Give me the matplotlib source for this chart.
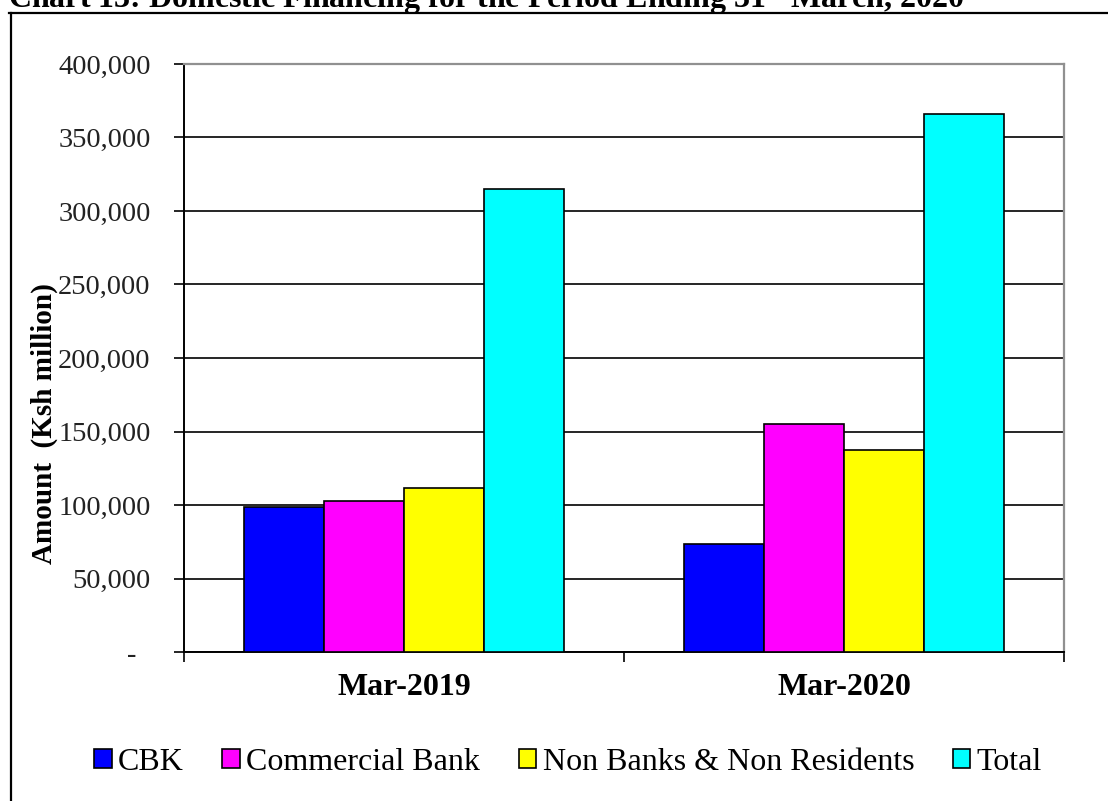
import matplotlib
matplotlib.use("Agg")
import matplotlib.pyplot as plt
from matplotlib.lines import Line2D
from matplotlib.ticker import FuncFormatter
import numpy as np

plt.rcParams['font.family'] = ['Liberation Serif', 'DejaVu Serif']
plt.rcParams['mathtext.fontset'] = 'custom'
plt.rcParams['mathtext.rm'] = 'Liberation Serif:bold'
plt.rcParams['mathtext.bf'] = 'Liberation Serif:bold'

# data (Ksh million)
periods = ["Mar-2019", "Mar-2020"]
series_names = ["CBK", "Commercial Bank", "Non Banks & Non Residents", "Total"]
cbk = [98500, 73500]
commercial_bank = [103000, 155000]
non_banks = [111500, 137500]
total = [315000, 366000]
colors = ["#0000FF", "#FF00FF", "#FFFF00", "#00FFFF"]

values = [cbk, commercial_bank, non_banks, total]

fig = plt.figure(figsize=(11.08, 8.01), dpi=100)
ax = fig.add_axes([184 / 1108, 1 - 652 / 801, 880 / 1108, 588 / 801])

centers = np.arange(len(periods)) + 0.5
w = 80 / 440
for i, (name, vals) in enumerate(zip(series_names, values)):
    ax.bar(centers + (i - 1.5) * w, vals, width=w, color=colors[i],
           edgecolor="black", linewidth=1.2, label=name, zorder=3)

ax.set_xlim(0, len(periods))
ax.set_ylim(0, 400000)
ax.set_yticks(np.arange(0, 400001, 50000))
ax.yaxis.set_major_formatter(FuncFormatter(lambda v, p: "-  " if v == 0 else f"{v:,.0f}"))
ax.grid(axis="y", color="black", linewidth=1.2, zorder=0)

# category boundaries as major ticks, labels on minor ticks
ax.set_xticks(np.arange(len(periods) + 1))
ax.set_xticklabels([])
ax.set_xticks(centers, minor=True)
ax.set_xticklabels(periods, minor=True, fontsize=23, fontweight="bold")
ax.tick_params(axis="x", which="major", direction="out", length=7, width=1.2)
ax.tick_params(axis="x", which="minor", length=0, pad=15)
ax.tick_params(axis="y", direction="out", length=7, width=1.2, labelsize=20.5, pad=17,
               labelcolor="#222222")

for s in ["left", "bottom"]:
    ax.spines[s].set_color("black")
    ax.spines[s].set_linewidth(1.4)
for s in ["top", "right"]:
    ax.spines[s].set_color("#909090")
    ax.spines[s].set_linewidth(1.6)

fig.text(44 / 1108, 1 - 424 / 801, "Amount  (Ksh million)", rotation=90,
         ha="center", va="center", fontsize=21, fontweight="bold")

fig.legend(loc="center", bbox_to_anchor=(568 / 1108, 1 - 762 / 801), ncol=4,
           frameon=False, fontsize=23, handlelength=0.55, handleheight=0.55,
           handletextpad=0.2, columnspacing=1.2)

fig.text(8 / 1108, 1 - 8 / 801,
         r"Chart 13: Domestic Financing for the Period Ending 31$^{\mathrm{st}}$ March, 2020",
         ha="left", va="baseline", fontsize=23, fontweight="bold")

# outer frame
fig.add_artist(Line2D([9 / 1108, 1], [1 - 13 / 801] * 2, transform=fig.transFigure,
                      color="black", linewidth=1.6))
fig.add_artist(Line2D([11 / 1108] * 2, [0, 1 - 13 / 801], transform=fig.transFigure,
                      color="black", linewidth=1.6))

fig.savefig("out.png", dpi=100)
